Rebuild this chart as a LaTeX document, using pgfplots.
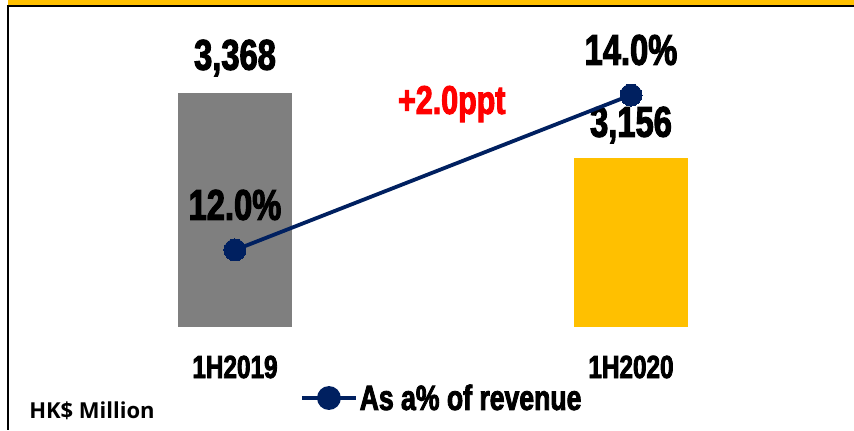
\documentclass[border=0pt]{standalone}
\usepackage{fontspec}
\usepackage{pgfplots}
\pgfplotsset{compat=1.18}
\setmainfont{Liberation Sans}
\newfontfamily\imp[FakeStretch=0.76,FakeBold=2.5]{Liberation Sans Bold}
\newfontfamily\lab{Open Sans Bold}
\definecolor{barGray}{HTML}{7F7F7F}
\definecolor{barGold}{HTML}{FFC000}
\definecolor{navy}{HTML}{002060}

\pgfplotsset{
  base/.style={
    scale only axis, width=854pt,
    anchor=south west,
    xmin=-0.5934, xmax=1.5631,
    axis line style={draw=none}, tick style={draw=none},
    ytick=\empty,
    /pgf/number format/assume math mode=true,
  },
}

\begin{document}
\begin{tikzpicture}
% bars: HK$ million (axis starts at the bar baseline)
\begin{axis}[base, at={(0pt,103pt)}, height=327pt,
  ymin=2605, ymax=3671.5,
  ybar, bar width=114pt, bar shift=0pt,
  xtick=\empty,
  nodes near coords,
  nodes near coords style={anchor=center, font=\imp\fontsize{43}{43}\selectfont},
]
\addplot[fill=barGray, draw=none, nodes near coords style={yshift=35pt}] coordinates {(0,3368)};
\addplot[fill=barGold, draw=none, nodes near coords style={yshift=33pt}] coordinates {(1,3156)};
\end{axis}

% line: as a % of revenue
\begin{axis}[base, at={(0pt,0pt)}, height=430pt,
  ymin=9.677, ymax=15.226,
  xtick={0,1}, xticklabels={1H2019,1H2020},
  xticklabel style={anchor=center, yshift=63pt, font=\imp\fontsize{32}{32}\selectfont},
  legend style={draw=none, fill=none, at={(0.3513,0.0744)}, anchor=west,
    font=\imp\fontsize{35}{35}\selectfont, inner sep=0pt,
    /tikz/every even column/.append style={column sep=2pt}},
  legend image code/.code={
    \draw[line width=3.5pt, navy] (0pt,0pt) -- (54pt,0pt);
    \fill[navy] (27pt,0pt) circle (10pt);
  },
]
\addplot[navy, line width=3.8pt, mark=*, mark size=11pt,
  mark options={solid, line width=0pt},
  nodes near coords={\pgfmathprintnumber[fixed,zerofill,precision=1]{\pgfplotspointmeta}\%},
  nodes near coords style={anchor=center, yshift=45pt, text=black, font=\imp\fontsize{43}{43}\selectfont},
] coordinates {(0,12.0) (1,14.0)};
\addlegendentry{As a\% of revenue}

\fill[barGold] (rel axis cs:0.0094,1) rectangle (rel axis cs:1,0.98837);
\draw[black, line width=2pt] (rel axis cs:0.0082,0.98605) -- (rel axis cs:1,0.98605);
\draw[black, line width=2pt] (rel axis cs:0.0088,0.9884) -- (rel axis cs:0.0088,0);
\node[text=red, font=\imp\fontsize{40}{40}\selectfont] at (axis description cs:0.529,0.758) {+2.0ppt};
\node[font=\lab\fontsize{22}{22}\selectfont] at (axis description cs:0.1077,0.0442) {HK\$ Million};
\end{axis}
\end{tikzpicture}
\end{document}
